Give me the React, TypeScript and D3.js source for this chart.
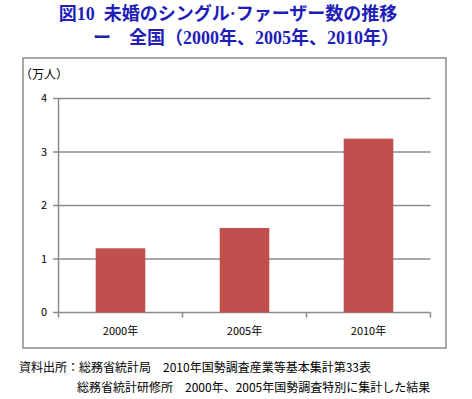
import React from 'react';
import * as d3 from 'd3';

const years = ['2000年', '2005年', '2010年'];
const counts = [1.2, 1.58, 3.25];
const yTicks = [0, 1, 2, 3, 4];

const App = () => {
    const W = 472;
    const H = 399;

    const x = d3.scaleBand<string>()
        .domain(years)
        .range([58.5, 430.5])
        .paddingInner(0.6)
        .paddingOuter(0.3);

    const y = d3.scaleLinear()
        .domain([0, 4])
        .range([312.5, 98.5]);

    // category boundaries for the x-axis tick marks
    const bounds = d3.range(years.length + 1).map(i => 58.5 + i * (430.5 - 58.5) / years.length);

    const jp = '"Noto Sans CJK JP", "Noto Sans", sans-serif';
    const titleFont = '"Liberation Serif", "Noto Sans CJK JP", serif';

    return (
        <div style={{ position: 'absolute', left: 0, top: 0 }}>
            <svg width={W} height={H} style={{ display: 'block' }}>
                <rect width={W} height={H} fill="#fff" />
                <g fill="#1f1fb8" fontWeight="bold" fontFamily={titleFont} fontSize={18} textAnchor="middle">
                    <text x={228} y={20}>{'図10\u00a0\u00a0未婚のシングル·ファーザー数の推移'}</text>
                    <text x={246} y={44}>{'ー　全国（2000年、2005年、2010年）'}</text>
                </g>

                <rect x={23} y={58} width={423} height={290} fill="none" stroke="#8c8c8c" strokeWidth={1.5} />

                <text x={20} y={79} fontFamily={jp} fontSize={12} fill="#000">（万人）</text>

                {yTicks.map(t => (
                    <g key={t}>
                        <line x1={53} x2={430.5} y1={y(t)} y2={y(t)} stroke="#8c8c8c" strokeWidth={1.5} />
                        <text x={47} y={y(t)} dy="0.35em" textAnchor="end" fontFamily={jp} fontSize={11} fill="#000">{t}</text>
                    </g>
                ))}

                <line x1={58.5} x2={58.5} y1={98.5} y2={312.5} stroke="#8c8c8c" strokeWidth={1.5} />
                {bounds.map((b, i) => (
                    <line key={i} x1={b} x2={b} y1={312.5} y2={317.5} stroke="#8c8c8c" strokeWidth={1.5} />
                ))}

                {years.map((yr, i) => (
                    <rect key={yr}
                        x={x(yr)}
                        y={y(counts[i])}
                        width={x.bandwidth()}
                        height={y(0) - y(counts[i])}
                        fill="#c0504d" />
                ))}

                {years.map(yr => (
                    <text key={yr} x={(x(yr) ?? 0) + x.bandwidth() / 2} y={331} dy="0.35em"
                        textAnchor="middle" fontFamily={jp} fontSize={11} fill="#000">{yr}</text>
                ))}

                <g fontFamily={jp} fontSize={12} fill="#000">
                    <text x={19} y={372}>資料出所：総務省統計局　2010年国勢調査産業等基本集計第33表</text>
                    <text x={77} y={392}>総務省統計研修所　2000年、2005年国勢調査特別に集計した結果</text>
                </g>
            </svg>
        </div>
    );
};

export default App;
